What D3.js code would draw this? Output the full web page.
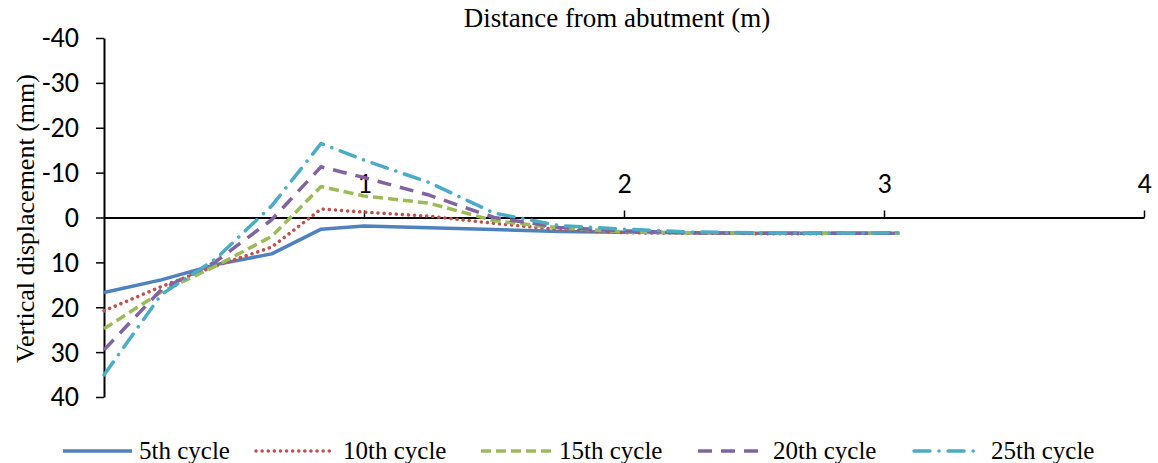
<!DOCTYPE html>
<html>
<head>
<meta charset="utf-8">
<script src="https://cdn.jsdelivr.net/npm/d3@7"></script>
<style>
  html, body { margin: 0; padding: 0; background: #fff; }
  svg { display: block; }
</style>
</head>
<body>
<svg id="chart" width="1158" height="463"></svg>
<script>
// ---- data ----
const distance = [0, 0.22, 0.43, 0.645, 0.835, 1.0, 1.25, 1.5, 1.75, 2.0, 2.25, 2.5, 2.75, 3.06];
const cycle5  = [16.7, 13.9, 10.5, 8.1, 2.6, 1.9, 2.3, 2.7, 3.1, 3.3, 3.4, 3.5, 3.5, 3.5];
const cycle10 = [20.8, 15.4, 10.8, 6.6, -1.9, -1.2, -0.3, 1.3, 2.7, 3.4, 3.5, 3.6, 3.6, 3.5];
const cycle15 = [24.8, 16.6, 10.8, 4.2, -6.9, -4.8, -3.2, 0.7, 2.3, 3.2, 3.4, 3.5, 3.5, 3.5];
const cycle20 = [29.5, 16.1, 9.8, 0.5, -11.3, -8.9, -5.0, 0.0, 2.2, 3.0, 3.4, 3.5, 3.5, 3.5];
const cycle25 = [35.1, 17.2, 9.2, -2.6, -16.5, -12.8, -7.8, -1.0, 1.8, 2.6, 3.2, 3.4, 3.5, 3.4];
const seriesNames = ["5th cycle", "10th cycle", "15th cycle", "20th cycle", "25th cycle"];
const xTicks = [1, 2, 3, 4];
const yTicks = [-40, -30, -20, -10, 0, 10, 20, 30, 40];

const seriesValues = [cycle5, cycle10, cycle15, cycle20, cycle25];
const colors = ["#4F81BD", "#C0504D", "#9BBB59", "#8064A2", "#4BACC6"];
const dashes = [null, "0.1 6", "10 5", "14 9", "16 9 0.1 9"];
const caps = ["butt", "round", "butt", "butt", "round"];

const svg = d3.select("#chart");
const margin = { left: 104, right: 14, top: 38, bottom: 66 };
const W = 1158, H = 463;

const x = d3.scaleLinear().domain([0, 4]).range([margin.left, W - margin.right]);
const y = d3.scaleLinear().domain([-40, 40]).range([margin.top, H - margin.bottom]);

const tickFont = "Carlito, Lato, 'Open Sans', sans-serif";
const serif = "'Liberation Serif', 'Times New Roman', serif";

// y axis
const yAxis = svg.append("g")
  .attr("transform", `translate(${x(0)},0)`)
  .attr("font-size", 28)
  .call(d3.axisLeft(y).tickValues(yTicks).tickSize(8).tickPadding(17).tickSizeOuter(0)
    .tickFormat(d => String(d)));
yAxis.select(".domain").attr("stroke", "#000").attr("stroke-width", 2);
yAxis.selectAll(".tick line").attr("stroke", "#000").attr("stroke-width", 1.5);
yAxis.selectAll(".tick text")
  .attr("font-family", tickFont)
  .style("font-size", "28px").attr("fill", "#000");

// x axis at y = 0, labels above
const xAxis = svg.append("g")
  .attr("transform", `translate(0,${y(0)})`)
  .call(d3.axisTop(x).tickValues(xTicks).tickSize(7).tickPadding(18).tickSizeOuter(0)
    .tickFormat(d3.format("d")));
xAxis.select(".domain").attr("stroke", "#000").attr("stroke-width", 2);
xAxis.selectAll(".tick line").attr("stroke", "#000").attr("stroke-width", 1.5);
xAxis.selectAll(".tick text")
  .attr("font-family", tickFont)
  .style("font-size", "28px").attr("fill", "#000");

// lines
const line = d3.line().x(d => x(d[0])).y(d => y(d[1]));
seriesValues.forEach((vals, i) => {
  const pts = distance.map((d, j) => [d, vals[j]]);
  svg.append("path")
    .datum(pts)
    .attr("d", line)
    .attr("fill", "none")
    .attr("stroke", colors[i])
    .attr("stroke-width", 3.5)
    .attr("stroke-linecap", caps[i])
    .attr("stroke-linejoin", "round")
    .attr("stroke-dasharray", dashes[i]);
});

// titles
svg.append("text")
  .attr("x", 617).attr("y", 27)
  .attr("text-anchor", "middle")
  .attr("font-family", serif)
  .attr("font-size", 27).attr("fill", "#000")
  .text("Distance from abutment (m)");

svg.append("text")
  .attr("transform", `translate(34,${(70 + 367) / 2}) rotate(-90)`)
  .attr("text-anchor", "middle")
  .attr("font-family", serif)
  .attr("font-size", 26).attr("fill", "#000")
  .text("Vertical displacement (mm)");

// legend
const legendX = [63, 256, 481, 698, 914];
const legendLen = [69, 75, 70, 69, 60];
const legendTextX = [76, 87, 78, 75, 77];
const legendY = 451;
seriesNames.forEach((name, i) => {
  const g = svg.append("g").attr("transform", `translate(${legendX[i]},${legendY})`);
  g.append("line")
    .attr("x1", 0).attr("x2", legendLen[i])
    .attr("y1", 0).attr("y2", 0)
    .attr("stroke", colors[i]).attr("stroke-width", 3.5)
    .attr("stroke-linecap", caps[i])
    .attr("stroke-dasharray", dashes[i]);
  g.append("text")
    .attr("x", legendTextX[i])
    .attr("y", 8)
    .attr("font-family", serif)
    .attr("font-size", 25).attr("fill", "#000")
    .text(name);
});
</script>
</body>
</html>
